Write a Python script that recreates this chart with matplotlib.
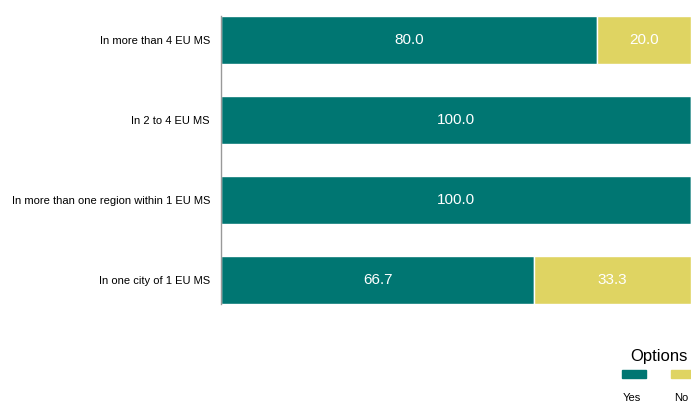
import matplotlib
matplotlib.use("Agg")
import matplotlib.pyplot as plt
from matplotlib.patches import Rectangle
from matplotlib import font_manager

# categories listed top to bottom
categories = [
    "In more than 4 EU MS",
    "In 2 to 4 EU MS",
    "In more than one region within 1 EU MS",
    "In one city of 1 EU MS",
]
yes_values = [80.0, 100.0, 100.0, 66.7]
no_values = [20.0, 0.0, 0.0, 33.3]
series_names = ["Yes", "No"]

TEAL = "#007672"
YELLOW = "#dfd462"

names = {f.name for f in font_manager.fontManager.ttflist}
font = "Liberation Sans Narrow" if "Liberation Sans Narrow" in names else "Liberation Sans"
plt.rcParams["font.family"] = [font, "DejaVu Sans"]

W, H = 691, 403
fig = plt.figure(figsize=(W / 100, H / 100), dpi=100)
ax = fig.add_axes([221 / W, 1 - 304 / H, (691 - 221) / W, (304 - 16) / H])

ypos = list(range(len(categories)))[::-1]
ax.barh(ypos, yes_values, height=0.6, color=TEAL, edgecolor="white", linewidth=1)
ax.barh(ypos, no_values, left=yes_values, height=0.6, color=YELLOW,
        edgecolor="white", linewidth=1)

for y, a, b in zip(ypos, yes_values, no_values):
    if a > 0:
        ax.text(a / 2, y, f"{a:.1f}", ha="center", va="center", color="white", fontsize=11)
    if b > 0:
        ax.text(a + b / 2, y, f"{b:.1f}", ha="center", va="center", color="white", fontsize=11)

ax.set_xlim(0, 100)
ax.set_ylim(-0.3, 3.3)
ax.set_yticks(ypos)
ax.set_yticklabels(categories, fontsize=8)
ax.tick_params(axis="y", length=0, pad=8)
ax.set_xticks([])
for side in ["top", "right", "bottom"]:
    ax.spines[side].set_visible(False)
ax.spines["left"].set_color("#999999")
ax.spines["left"].set_linewidth(1)

# legend drawn by hand at the lower right corner
fig.text(659 / W, 1 - 356 / H, "Options", ha="center", va="center", fontsize=12)
for x0, col, name in [(622, TEAL, series_names[0]), (671, YELLOW, series_names[1])]:
    fig.patches.append(Rectangle((x0 / W, 1 - 378 / H), 24 / W, 8 / H,
                                 transform=fig.transFigure, color=col))
    fig.text((x0 + 10) / W, 1 - 398 / H, name, ha="center", va="center", fontsize=8)

fig.savefig("out.png", dpi=100)
